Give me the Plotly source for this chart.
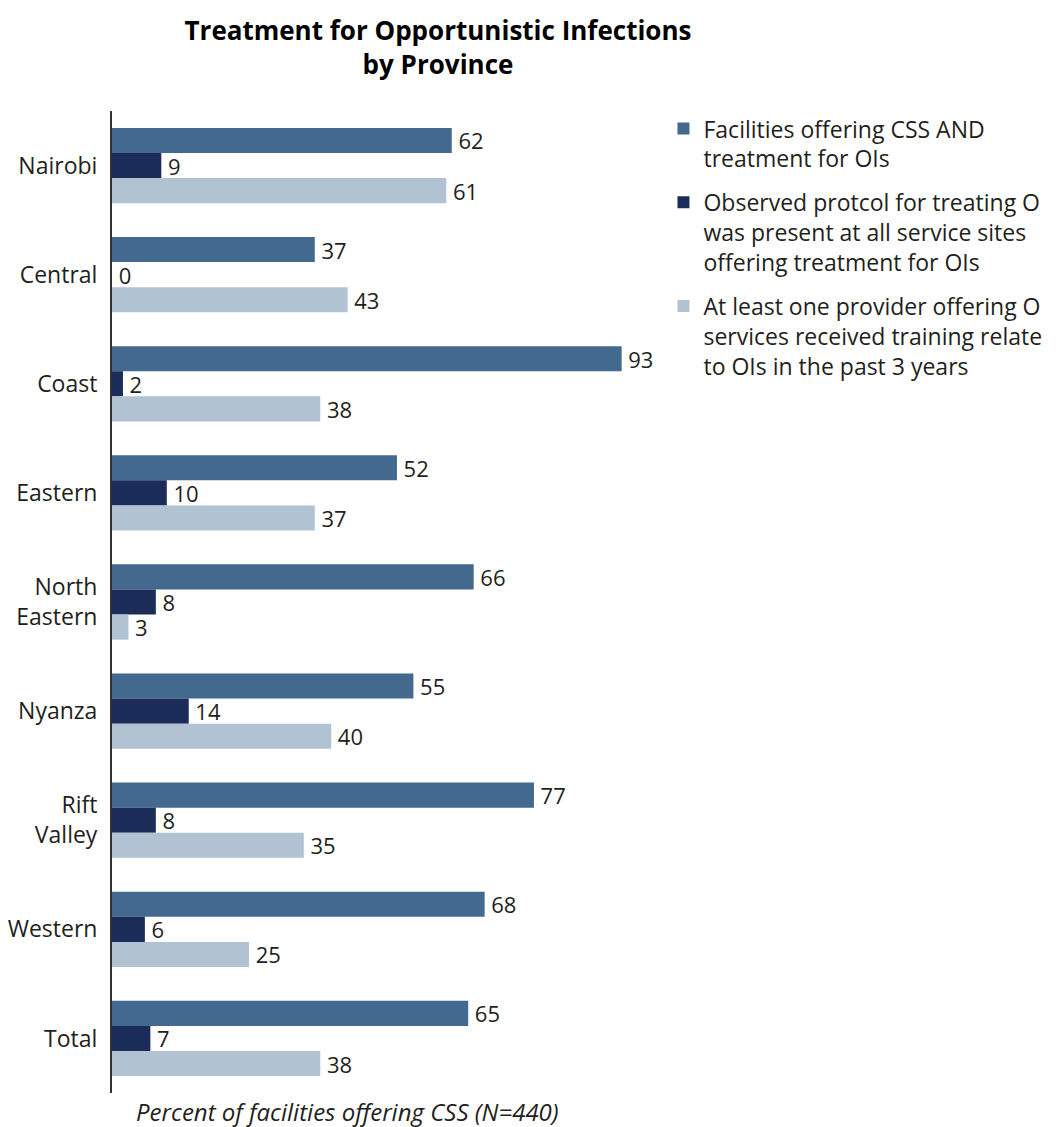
import plotly.graph_objects as go

categories = ["Nairobi", "Central", "Coast", "Eastern", "North<br>Eastern",
              "Nyanza", "Rift<br>Valley", "Western", "Total"]
facilities_css_oi = [62, 37, 93, 52, 66, 55, 77, 68, 65]
observed_protocol = [9, 0, 2, 10, 8, 14, 8, 6, 7]
provider_training = [61, 43, 38, 37, 3, 40, 35, 25, 38]

series_names = [
    "Facilities offering CSS AND<br>treatment for OIs",
    "Observed protcol for treating O<br>was present at all service sites<br>offering treatment for OIs",
    "At least one provider offering O<br>services received training relate<br>to OIs in the past 3 years",
]
colors = ["#43698F", "#1B2C58", "#B1C2D2"]
FONT = "Open Sans, Noto Sans, sans-serif"
TXT = "#231F20"

fig = go.Figure()
for i, (name, vals, col) in enumerate(zip(series_names,
                                          [facilities_css_oi, observed_protocol, provider_training],
                                          colors)):
    fig.add_trace(go.Bar(
        y=categories, x=vals, orientation="h", name=name,
        marker=dict(color=col, line=dict(width=0)),
        text=["\u2009" + str(v) for v in vals], textposition="outside",
        textfont=dict(family=FONT, size=22, color=TXT),
        constraintext="none",
        cliponaxis=False, legendgroup=f"g{i}",
    ))

fig.update_layout(
    width=1058, height=1127,
    barmode="group", bargap=0.31, bargroupgap=0,
    plot_bgcolor="white", paper_bgcolor="white",
    margin=dict(l=112, r=397, t=111, b=34),
    font=dict(family=FONT, size=22, color=TXT),
    title=dict(text="<b>Treatment for Opportunistic Infections<br>by Province</b>",
               x=438/1058, xanchor="center", xref="container",
               y=1 - 40/1127, yanchor="top", yref="container",
               font=dict(family=FONT, size=26, color="#000000")),
    legend=dict(x=1.0045, xanchor="left", y=1.004, yanchor="top",
                traceorder="grouped", tracegroupgap=11, valign="top",
                font=dict(family=FONT, size=23, color=TXT),
                itemwidth=30),
    showlegend=True,
)
fig.update_xaxes(range=[0, 100], showgrid=False, zeroline=False,
                 showticklabels=False, showline=False, ticks="",
                 automargin=False)
fig.update_yaxes(autorange="reversed", showgrid=False, zeroline=False,
                 showline=True, linecolor="#333333", linewidth=2,
                 ticks="outside", ticklen=8, tickcolor="rgba(0,0,0,0)",
                 tickfont=dict(family=FONT, size=23, color=TXT),
                 automargin=False)
fig.add_annotation(text="<i>Percent of facilities offering CSS (N=440)</i>",
                   xref="paper", yref="paper", x=(348-112)/549, y=0,
                   yshift=-18, xanchor="center", yanchor="middle",
                   showarrow=False, font=dict(family=FONT, size=24, color=TXT))

fig.write_html("out.html")
